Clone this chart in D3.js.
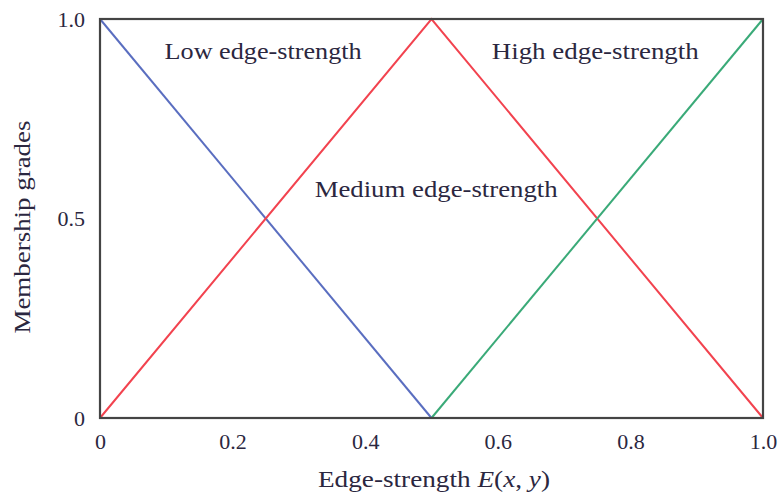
<!DOCTYPE html>
<html><head><meta charset="utf-8">
<script src="https://cdn.jsdelivr.net/npm/d3@7"></script>
<style>body{margin:0;background:#fff}svg text{font-family:"Liberation Serif","DejaVu Serif",serif;fill:#2b2740}</style>
</head><body>
<svg id="c" width="781" height="497"></svg>
<script>
const xTicks = [0, 0.2, 0.4, 0.6, 0.8, 1.0];
const xTickLabels = ["0", "0.2", "0.4", "0.6", "0.8", "1.0"];
const yTicks = [0, 0.5, 1.0];
const yTickLabels = ["0", "0.5", "1.0"];
const lowX = [0, 0.5], lowY = [1, 0];
const medX = [0, 0.5, 1.0], medY = [0, 1, 0];
const highX = [0.5, 1.0], highY = [0, 1];
const seriesNames = ["Low edge-strength", "Medium edge-strength", "High edge-strength"];
const labelPos = [[0.246, 0.9], [0.507, 0.553], [0.747, 0.9]];
const labelLen = [197, 243, 207];

const svg = d3.select("#c");
const L = 100, R = 763, T = 19, B = 418;
const x = d3.scaleLinear().domain([0, 1]).range([L, R]);
const y = d3.scaleLinear().domain([0, 1]).range([B, T]);

const line = d3.line().x(d => x(d[0])).y(d => y(d[1]));
const series = [
  {xs: lowX, ys: lowY, color: "#5a6ec0"},
  {xs: medX, ys: medY, color: "#f2434f"},
  {xs: highX, ys: highY, color: "#3aaa78"}
];
series.forEach(s => {
  svg.append("path").datum(s.xs.map((v, i) => [v, s.ys[i]]))
    .attr("d", line).attr("fill", "none").attr("stroke", s.color).attr("stroke-width", 2);
});

svg.append("rect").attr("x", x(0)).attr("y", y(1)).attr("width", x(1) - x(0)).attr("height", y(0) - y(1))
  .attr("fill", "none").attr("stroke", "#444").attr("stroke-width", 2.2);

const xa = svg.append("g").attr("transform", `translate(0,${B})`)
  .call(d3.axisBottom(x).tickValues(xTicks).tickFormat((d, i) => xTickLabels[i]).tickSize(0).tickPadding(15));
xa.select(".domain").remove();
xa.selectAll("text").attr("font-size", 22).style("font-family", "Liberation Serif").style("fill", "#2b2740");

const ya = svg.append("g").attr("transform", `translate(${L},0)`)
  .call(d3.axisLeft(y).tickValues(yTicks).tickFormat((d, i) => yTickLabels[i]).tickSize(0).tickPadding(15));
ya.select(".domain").remove();
ya.selectAll("text").attr("font-size", 22).style("font-family", "Liberation Serif").style("fill", "#2b2740");

seriesNames.forEach((n, i) => {
  svg.append("text").attr("x", x(labelPos[i][0])).attr("y", y(labelPos[i][1]))
    .attr("text-anchor", "middle").attr("font-size", 23)
    .attr("textLength", labelLen[i]).attr("lengthAdjust", "spacingAndGlyphs").text(n);
});

const xt = svg.append("text").attr("x", 434).attr("y", 487).attr("text-anchor", "middle").attr("font-size", 23)
  .attr("textLength", 232).attr("lengthAdjust", "spacingAndGlyphs");
xt.append("tspan").text("Edge-strength ");
xt.append("tspan").attr("font-style", "italic").text("E");
xt.append("tspan").text("(");
xt.append("tspan").attr("font-style", "italic").text("x");
xt.append("tspan").text(", ");
xt.append("tspan").attr("font-style", "italic").text("y");
xt.append("tspan").text(")");

svg.append("text").attr("transform", `translate(30,227) rotate(-90)`)
  .attr("text-anchor", "middle").attr("font-size", 23)
  .attr("textLength", 213).attr("lengthAdjust", "spacingAndGlyphs").text("Membership grades");
</script>
</body></html>
